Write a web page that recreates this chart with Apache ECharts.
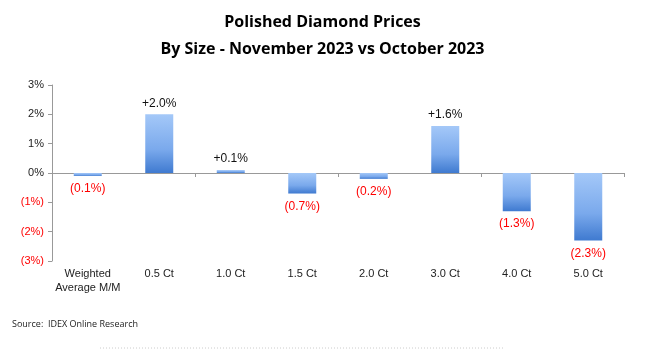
<!DOCTYPE html>
<html><head><meta charset="utf-8">
<script src="https://cdn.jsdelivr.net/npm/echarts@6/dist/echarts.min.js"></script>
<style>html,body{margin:0;padding:0;background:#fff}#c{width:645px;height:350px}</style>
</head><body><div id="c"></div>
<script>
var categories = ['Weighted\nAverage M/M', '0.5 Ct', '1.0 Ct', '1.5 Ct', '2.0 Ct', '3.0 Ct', '4.0 Ct', '5.0 Ct'];
var values = [-0.1, 2.0, 0.1, -0.7, -0.2, 1.6, -1.3, -2.3];
var yTicks = [-3, -2, -1, 0, 1, 2, 3];

function fmtPct(v) {
  if (v < 0) return '(' + Math.abs(v).toFixed(1) + '%)';
  return '+' + v.toFixed(1) + '%';
}

var chart = echarts.init(document.getElementById('c'));
chart.setOption({
  animation: false,
  title: {
    text: 'Polished Diamond Prices\nBy Size - November 2023 vs October 2023',
    left: 'center', top: 4,
    textStyle: { fontFamily: 'Open Sans', fontWeight: 'bold', fontSize: 16, lineHeight: 27, color: '#000' }
  },
  graphic: [
    { type: 'text', left: 12, top: 320, style: { text: 'Source:  IDEX Online Research', font: '9px "Open Sans"', fill: '#222' } },
    { type: 'line', shape: { x1: 100, y1: 348, x2: 505, y2: 348 }, style: { stroke: '#ccc', lineDash: [1, 2], lineWidth: 1 } }
  ],
  grid: { left: 52, right: 21, top: 85, bottom: 89 },
  xAxis: [{
    type: 'category', data: categories,
    axisLine: { onZero: true, lineStyle: { color: '#999' } },
    axisTick: { show: true, inside: false, length: 4, lineStyle: { color: '#999' } },
    axisLabel: { show: false }
  }, {
    type: 'category', data: categories, position: 'bottom',
    axisLine: { show: false }, axisTick: { show: false },
    axisLabel: { show: true, interval: 0, margin: 6, fontFamily: 'Liberation Sans', fontSize: 11, color: '#222', lineHeight: 14 }
  }],
  yAxis: {
    type: 'value', min: -3, max: 3, interval: 1,
    splitLine: { show: false },
    axisLine: { show: true, lineStyle: { color: '#999' } },
    axisTick: { show: true, length: 4, lineStyle: { color: '#999' } },
    axisLabel: {
      margin: 8, fontFamily: 'Liberation Sans', fontSize: 11,
      formatter: function (v) { return v < 0 ? '{n|(' + Math.abs(v) + '%)}' : '{p|' + v + '%}'; },
      rich: { n: { color: '#ff0000', fontFamily: 'Liberation Sans', fontSize: 11 }, p: { color: '#222', fontFamily: 'Liberation Sans', fontSize: 11 } }
    }
  },
  series: [{
    type: 'bar', xAxisIndex: 0, barWidth: 28,
    data: values.map(function (v) {
      return {
        value: v,
        label: {
          show: true, position: v < 0 ? 'bottom' : 'top', distance: v < 0 ? 7 : 5,
          formatter: function () { return fmtPct(v); },
          color: v < 0 ? '#ff0000' : '#111', fontFamily: 'Liberation Sans', fontSize: 12
        }
      };
    }),
    itemStyle: {
      color: new echarts.graphic.LinearGradient(0, 0, 0, 1, [
        { offset: 0, color: '#a4c8f8' },
        { offset: 0.6, color: '#7aa9ec' },
        { offset: 1, color: '#3f7ad0' }
      ])
    }
  }]
});
</script></body></html>
